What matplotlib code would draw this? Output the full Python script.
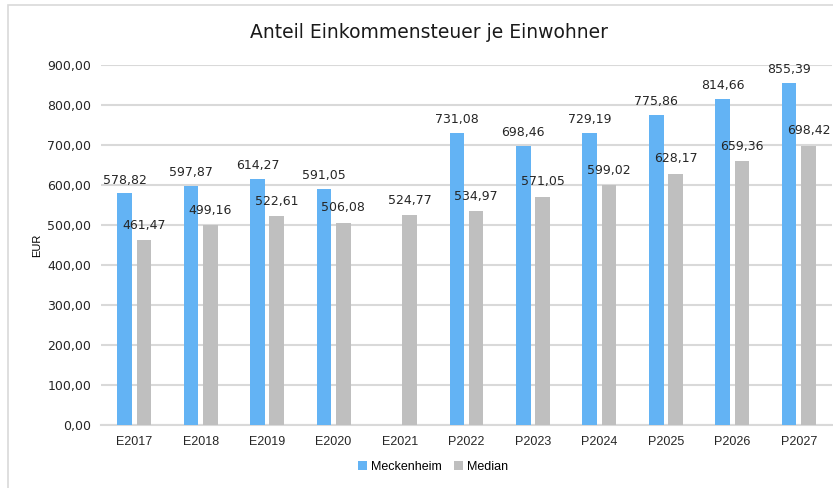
import numpy as np
import matplotlib
matplotlib.use("Agg")
import matplotlib.pyplot as plt
from matplotlib.patches import Rectangle
from matplotlib.ticker import FuncFormatter

years = ["E2017", "E2018", "E2019", "E2020", "E2021", "P2022",
         "P2023", "P2024", "P2025", "P2026", "P2027"]
meckenheim = [578.82, 597.87, 614.27, 591.05, np.nan, 731.08,
              698.46, 729.19, 775.86, 814.66, 855.39]
median = [461.47, 499.16, 522.61, 506.08, 524.77, 534.97,
          571.05, 599.02, 628.17, 659.36, 698.42]

blue = "#63b3f4"
grey = "#bfbfbf"


def de_fmt(v):
    return f"{v:,.2f}".replace(",", "X").replace(".", ",").replace("X", ".")


fig = plt.figure(figsize=(8.33, 4.88), dpi=100)
# outer chart frame
fig.patches.append(Rectangle((8 / 833, -0.05), 1.0, 1 - 5 / 488 + 0.05,
                             transform=fig.transFigure, fill=False,
                             edgecolor="#d9d9d9", linewidth=1.2))

ax = fig.add_axes([101 / 833, 1 - 425 / 488, 731 / 833, 360 / 488])
x = np.arange(len(years))
w = 0.22
off = 0.145
b1 = ax.bar(x - off, meckenheim, w, color=blue, label="Meckenheim", zorder=3)
b2 = ax.bar(x + off, median, w, color=grey, label="Median", zorder=3)

for xi, v in zip(x - off, meckenheim):
    if not np.isnan(v):
        ax.annotate(de_fmt(v), (xi, v), xytext=(0, 5), textcoords="offset points",
                    ha="center", va="bottom", fontsize=9, color="#262626")
for xi, v in zip(x + off, median):
    ax.annotate(de_fmt(v), (xi, v), xytext=(0, 6), textcoords="offset points",
                ha="center", va="bottom", fontsize=9, color="#262626")

ax.set_xlim(-0.5, 10.5)
ax.set_ylim(0, 900)
ax.set_yticks(np.arange(0, 901, 100))
ax.yaxis.set_major_formatter(FuncFormatter(lambda v, p: de_fmt(v)))
ax.set_xticks(x)
ax.set_xticklabels(years, fontsize=9, family="Liberation Sans")
ax.tick_params(axis="y", labelsize=9, length=0, pad=7, colors="#262626")
ax.tick_params(axis="x", length=0, pad=8, colors="#262626")
ax.grid(axis="y", color="#d9d9d9", linewidth=1.5, zorder=0)
for s in ["top", "right", "left"]:
    ax.spines[s].set_visible(False)
ax.spines["bottom"].set_color("#d9d9d9")
ax.spines["bottom"].set_linewidth(1.5)
ax.set_ylabel("EUR", fontsize=8, family="Liberation Sans", labelpad=4)

fig.text(0.515, 1 - 33 / 488, "Anteil Einkommensteuer je Einwohner",
         ha="center", va="center", fontsize=13.5, color="#1a1a1a")
fig.legend(handles=[b1, b2], labels=["Meckenheim", "Median"],
           loc="center", bbox_to_anchor=(0.52, 1 - 467 / 488), ncol=2,
           frameon=False, handlelength=0.7, handleheight=0.7, handletextpad=0.3,
           columnspacing=1.0, prop={"family": "Liberation Sans", "size": 9})

fig.savefig("out.png", dpi=100)
